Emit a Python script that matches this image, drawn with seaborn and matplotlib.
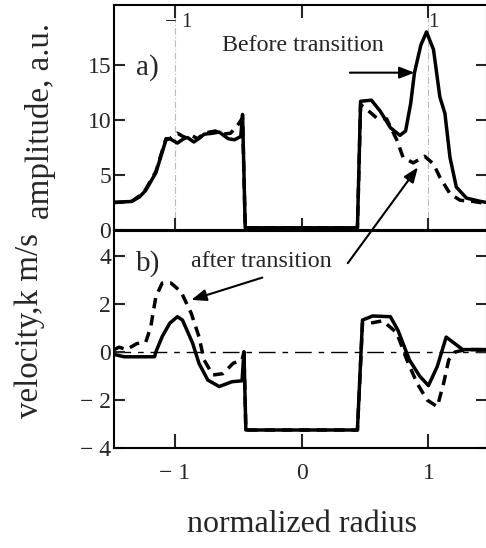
import matplotlib
matplotlib.use('Agg')
import matplotlib.pyplot as plt
import seaborn as sns

# amplitude, panel a)
x_amp_before = [-1.48, -1.34, -1.28, -1.23, -1.15, -1.07, -1.04, -0.98, -0.93, -0.90, -0.85, -0.80,
                -0.77, -0.70, -0.65, -0.58, -0.53, -0.48, -0.466, -0.445, 0.44, 0.465, 0.55, 0.62,
                0.70, 0.775, 0.82, 0.86, 0.89, 0.94, 0.985, 1.04, 1.09, 1.13, 1.17, 1.22, 1.30, 1.41, 1.46]
amp_before = [2.5, 2.6, 3.0, 3.6, 5.2, 8.2, 8.3, 7.9, 8.3, 8.4, 8.0, 8.4,
              8.7, 8.8, 8.9, 8.3, 8.2, 8.5, 10.5, 0.2, 0.2, 11.7, 11.8, 10.8,
              9.3, 8.6, 9.0, 11.5, 14.3, 16.8, 18.0, 16.4, 12.1, 10.6, 6.6, 3.9, 2.9, 2.6, 2.5]

x_amp_after = [-1.48, -1.34, -1.28, -1.23, -1.15, -1.07, -1.04, -0.98, -0.92, -0.87, -0.82, -0.77,
               -0.68, -0.62, -0.56, -0.50, -0.466, -0.445, 0.44, 0.465, 0.52, 0.59, 0.67, 0.75,
               0.80, 0.88, 0.97, 1.04, 1.09, 1.17, 1.25, 1.35, 1.46]
amp_after = [2.5, 2.6, 3.1, 3.7, 5.3, 8.3, 8.3, 8.8, 8.4, 8.6, 8.3, 8.8,
             9.0, 8.7, 8.8, 9.6, 10.2, 0.2, 0.2, 11.4, 10.9, 10.2, 10.1, 8.2,
             6.6, 6.1, 6.7, 6.0, 4.8, 3.3, 2.7, 2.6, 2.4]

# velocity, panel b)
x_vel_before = [-1.48, -1.40, -1.16, -1.15, -1.10, -1.04, -0.98, -0.94, -0.86, -0.81, -0.74, -0.65,
                -0.55, -0.47, -0.455, -0.44, 0.44, 0.48, 0.56, 0.70, 0.76, 0.85, 0.93, 1.0,
                1.07, 1.14, 1.22, 1.27, 1.46]
vel_before = [-0.1, -0.2, -0.2, 0.0, 0.64, 1.2, 1.47, 1.33, 0.37, -0.47, -1.17, -1.44,
              -1.24, -1.2, 0.0, -3.25, -3.25, 1.33, 1.5, 1.47, 0.9, -0.33, -1.0, -1.4,
              -0.6, 0.62, 0.3, 0.1, 0.1]

x_vel_after = [-1.48, -1.44, -1.38, -1.30, -1.23, -1.19, -1.15, -1.10, -1.03, -0.95, -0.87, -0.81,
               -0.77, -0.70, -0.62, -0.54, -0.47, -0.455, -0.44, 0.44, 0.48, 0.54, 0.64, 0.75,
               0.83, 0.91, 0.99, 1.07, 1.12, 1.16, 1.21, 1.30, 1.46]
vel_after = [0.1, 0.2, 0.1, 0.35, 0.4, 1.05, 2.3, 2.87, 2.87, 2.5, 1.6, 0.64,
             -0.33, -0.96, -0.9, -0.47, -0.33, 0.0, -3.25, -3.25, 1.2, 1.2, 1.3, 0.8,
             -0.33, -1.3, -2.0, -2.28, -1.3, -0.33, 0.0, 0.1, 0.1]

amp_ticks = [0, 5, 10, 15]
vel_ticks = [-4, -2, 0, 2, 4]
vel_ticklabels = ['\u2212 4', '\u2212 2', '0', '2', '4']
x_ticks = [-1, 0, 1]
x_ticklabels = ['\u2212 1', '0', '1']

sns.set_style('ticks')
plt.rcParams['font.family'] = ['Liberation Serif', 'DejaVu Serif']
plt.rcParams['axes.linewidth'] = 1.5

fig = plt.figure(figsize=(4.86, 5.48), dpi=100)
W, H = 486, 548
ax1 = fig.add_axes([114 / W, 1 - 230 / H, (487 - 114) / W, 225 / H])
ax2 = fig.add_axes([114 / W, 1 - 448 / H, (487 - 114) / W, 217 / H])

lw = 2.5
sns.lineplot(x=x_amp_before, y=amp_before, color='black', lw=lw, sort=False, estimator=None, ax=ax1)
sns.lineplot(x=x_amp_after, y=amp_after, color='black', lw=lw, sort=False, estimator=None, ax=ax1)
ax1.lines[-1].set_linestyle((0, (3, 2)))
sns.lineplot(x=x_vel_before, y=vel_before, color='black', lw=lw, sort=False, estimator=None, ax=ax2)
sns.lineplot(x=x_vel_after, y=vel_after, color='black', lw=lw, sort=False, estimator=None, ax=ax2)
ax2.lines[-1].set_linestyle((0, (3, 2)))

xlim = (-1.48, 1.462)
ax1.set_xlim(*xlim)
ax2.set_xlim(*xlim)
ax1.set_ylim(0, 20.45)
ax2.set_ylim(-4, 5.04)

for xv in [-1, 1]:
    ax1.axvline(xv, color='#bbbbbb', lw=0.8, ls=(0, (6, 2, 1, 2)), zorder=0)
ax2.axhline(0, color='black', lw=1.0, ls=(0, (12, 5, 4, 5)), zorder=0)

for ax in (ax1, ax2):
    for s in ax.spines.values():
        s.set_linewidth(1.5)
        s.set_color('black')
    ax.set_xlabel('')
    ax.set_ylabel('')

ax1.set_yticks(amp_ticks)
ax1.set_yticklabels([str(t) for t in amp_ticks])
ax1.set_xticks(x_ticks)
ax1.tick_params(axis='x', which='both', direction='in', length=9, width=1.5,
                top=True, bottom=True, labelbottom=False)
ax1.tick_params(axis='y', direction='in', length=8, width=1.5, right=True,
                labelsize=17, pad=2)

ax2.set_yticks(vel_ticks)
ax2.set_yticklabels(vel_ticklabels)
ax2.set_xticks(x_ticks)
ax2.set_xticklabels(x_ticklabels)
ax2.tick_params(axis='x', direction='in', length=10, width=1.5, labelsize=17, pad=11)
ax2.tick_params(axis='y', direction='in', length=8, width=1.5, right=True,
                labelsize=17, pad=2)

# labels of the inner top axis in panel a)
ax1.text(-1.08, 18.9, '\u2212 1', fontsize=15, ha='left', va='center')
ax1.text(1, 18.9, '1', fontsize=15, ha='left', va='center')

ax1.text(-1.31, 14.8, 'a)', fontsize=21, ha='left', va='center')
ax2.text(-1.31, 3.7, 'b)', fontsize=21, ha='left', va='center')
ax1.text(-0.63, 16.8, 'Before transition', fontsize=17.3, ha='left', va='center')
ax2.text(-0.87, 3.75, 'after transition', fontsize=17.3, ha='left', va='center')

arrow = dict(arrowstyle='-|>,head_length=0.9,head_width=0.35', color='black', lw=1.5,
             shrinkA=0, shrinkB=0)
ax1.annotate('', xy=(0.89, 14.3), xytext=(0.38, 14.3), arrowprops=arrow)
ax2.annotate('', xy=(0.917, 5.7), xycoords=ax1.transData, xytext=(0.364, 3.7),
             textcoords='data', arrowprops=arrow, annotation_clip=False)
ax2.annotate('', xy=(-0.87, 2.17), xytext=(-0.31, 3.1), arrowprops=arrow)

fig.text(41 / W, 1 - 121 / H, 'amplitude, a.u.', rotation=90, fontsize=23.8,
         ha='center', va='center')
fig.text(30 / W, 1 - 325 / H, 'velocity,k m/s', rotation=90, fontsize=23.8,
         ha='center', va='center')
fig.text(302 / W, 1 - 525 / H, 'normalized radius', fontsize=23, ha='center', va='center')

fig.savefig('out.png', dpi=100, facecolor='white')
